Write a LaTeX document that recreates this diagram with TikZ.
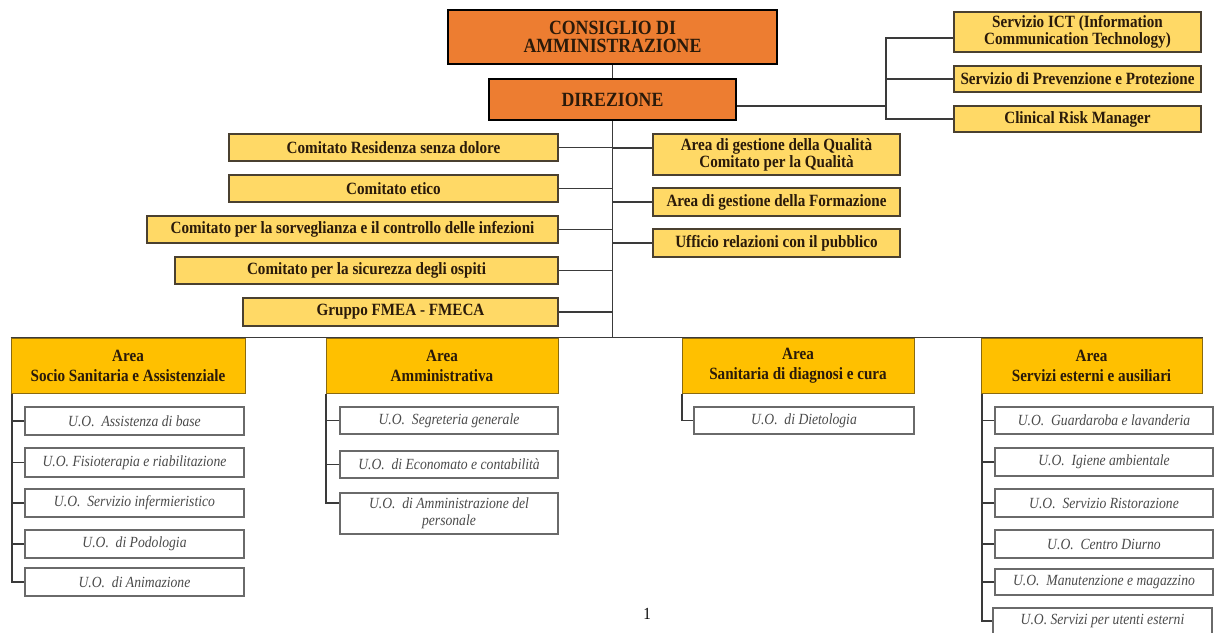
\documentclass[tikz,border=0pt]{standalone}
\usepackage{fontspec}
\setmainfont[FakeStretch=0.88]{Liberation Serif}
\definecolor{orangeb}{HTML}{ED7D31}
\definecolor{comfill}{HTML}{FFD966}
\definecolor{areafill}{HTML}{FFC000}
\definecolor{comborder}{HTML}{4A4030}
\definecolor{areaborder}{HTML}{8A6A10}
\definecolor{uoborder}{HTML}{6A6A6A}
\definecolor{uotext}{HTML}{4A4A4A}
\definecolor{textdark}{HTML}{2A1A0A}
\definecolor{linec}{HTML}{3A3A3A}
\newcommand\mkbox[7]{\node[#2, minimum width={(#5-#3)*1pt}, minimum height={(#6-#4)*1pt}] (#1) at ({(#3+#5)/2},{(#4+#6)/2}) {#7};}
\begin{document}
\begin{tikzpicture}[x=1pt,y=-1pt,
  topbox/.style={draw=black, line width=1.5pt, fill=orangeb, text=textdark, font=\fontsize{20.2}{18.5}\selectfont\bfseries, align=center, inner sep=0pt},
  combox/.style={draw=comborder, line width=1.4pt, fill=comfill, text=textdark, font=\fontsize{17.2}{17}\selectfont\bfseries, align=center, inner sep=0pt},
  areabox/.style={draw=areaborder, line width=1pt, fill=areafill, text=textdark, font=\fontsize{17.2}{20}\selectfont\bfseries, align=center, inner sep=0pt},
  uobox/.style={draw=uoborder, line width=1.2pt, fill=white, text=uotext, font=\fontsize{15.5}{17}\selectfont\itshape, align=center, inner sep=0pt},
  conn/.style={draw=linec, line width=1.2pt}]
\useasboundingbox (0,0) rectangle (1226,632);
\clip (0,0) rectangle (1226,632);
% top
\mkbox{cda}{topbox}{448}{10}{777}{64}{CONSIGLIO DI\\AMMINISTRAZIONE}
\mkbox{dir}{topbox}{489}{79}{736}{120}{DIREZIONE}
% staff right
\mkbox{ict}{combox}{954}{12}{1201}{52}{Servizio ICT (Information\\Communication Technology)}
\mkbox{prev}{combox}{954}{66}{1201}{92}{Servizio di Prevenzione e Protezione}
\mkbox{clin}{combox}{954}{106}{1201}{132}{Clinical Risk Manager}
% committees left
\mkbox{c1}{combox}{229}{134}{558}{161}{Comitato Residenza senza dolore}
\mkbox{c2}{combox}{229}{175}{558}{202}{Comitato etico}
\mkbox{c3}{combox}{147}{216}{558}{243}{Comitato per la sorveglianza e il controllo delle infezioni}
\mkbox{c4}{combox}{175}{257}{558}{284}{Comitato per la sicurezza degli ospiti}
\mkbox{c5}{combox}{243}{298}{558}{326}{Gruppo FMEA - FMECA}
% right of trunk
\mkbox{r1}{combox}{653}{134}{900}{175}{Area di gestione della Qualità\\Comitato per la Qualità}
\mkbox{r2}{combox}{653}{188}{900}{216}{Area di gestione della Formazione}
\mkbox{r3}{combox}{653}{229}{900}{257}{Ufficio relazioni con il pubblico}
% areas
\mkbox{a1}{areabox}{11}{338}{245}{393}{Area\\Socio Sanitaria e Assistenziale}
\mkbox{a2}{areabox}{326}{338}{558}{393}{Area\\Amministrativa}
\mkbox{a3}{areabox}{682}{338}{914}{393}{Area\\Sanitaria di diagnosi e cura}
\mkbox{a4}{areabox}{981}{338}{1202}{393}{Area\\Servizi esterni e ausiliari}
% UO socio
\mkbox{u11}{uobox}{25}{407}{244}{435}{U.O.\ \ Assistenza di base}
\mkbox{u12}{uobox}{25}{448}{244}{477}{U.O. Fisioterapia e riabilitazione}
\mkbox{u13}{uobox}{25}{489}{244}{517}{U.O.\ \ Servizio infermieristico}
\mkbox{u14}{uobox}{25}{530}{244}{558}{U.O.\ \ di Podologia}
\mkbox{u15}{uobox}{25}{568}{244}{596}{U.O.\ \ di Animazione}
% UO amministrativa
\mkbox{u21}{uobox}{340}{407}{558}{434}{U.O.\ \ Segreteria generale}
\mkbox{u22}{uobox}{340}{451}{558}{478}{U.O.\ \ di Economato e contabilità}
\mkbox{u23}{uobox}{340}{493}{558}{534}{U.O.\ \ di Amministrazione del\\personale}
% UO sanitaria
\mkbox{u31}{uobox}{694}{407}{914}{434}{U.O.\ \ di Dietologia}
% UO servizi
\mkbox{u41}{uobox}{995}{407}{1213}{434}{U.O.\ \ Guardaroba e lavanderia}
\mkbox{u42}{uobox}{995}{448}{1213}{476}{U.O.\ \ Igiene ambientale}
\mkbox{u43}{uobox}{995}{489}{1213}{517}{U.O.\ \ Servizio Ristorazione}
\mkbox{u44}{uobox}{995}{530}{1213}{558}{U.O.\ \ Centro Diurno}
\mkbox{u45}{uobox}{995}{569}{1213}{595}{U.O.\ \ Manutenzione e magazzino}
\mkbox{u46}{uobox}{993}{608}{1212}{634}{U.O. Servizi per utenti esterni}
% page number
\node[font=\fontsize{17}{17}\selectfont, text=black] (pg) at (647,614) {1};
% coordinates
\coordinate (trunkb) at (612.5,338);
\coordinate (rj) at (886,106);
\coordinate (s1) at (12,0);
\coordinate (s2) at (326,0);
\coordinate (s3) at (682,0);
\coordinate (s4) at (982,0);
% connectors top
\draw[conn] (cda.south) -- (dir.north);
\draw[conn] (dir.south) -- (trunkb);
\draw[conn] (dir.east |- rj) -- (rj);
\draw[conn] ([yshift=-6pt]ict.west) -| (clin.west -| rj) -- (clin.west);
\draw[conn] (prev.west) -- (prev.west -| rj);
\foreach \n in {c1,c2,c3,c4,c5} {\draw[conn] (\n.east) -- (\n.east -| trunkb);}
\draw[conn] ([yshift=6.5pt]r1.west) -- ([yshift=6.5pt]r1.west -| trunkb);
\foreach \n in {r2,r3} {\draw[conn] (\n.west) -- (\n.west -| trunkb);}
% bus
\draw[conn] (a1.north west) -- (a4.north east);
% area spines
\draw[conn] (a1.south -| s1) |- (u15.west);
\foreach \n in {u11,u12,u13,u14} {\draw[conn] (\n.west) -- (\n.west -| s1);}
\draw[conn] (a2.south -| s2) |- ([yshift=10.5pt]u23.west);
\foreach \n in {u21,u22} {\draw[conn] (\n.west) -- (\n.west -| s2);}
\draw[conn] (a3.south -| s3) |- (u31.west);
\draw[conn] (a4.south -| s4) |- (u46.west);
\foreach \n in {u41,u42,u43,u44,u45} {\draw[conn] (\n.west) -- (\n.west -| s4);}
\end{tikzpicture}
\end{document}
